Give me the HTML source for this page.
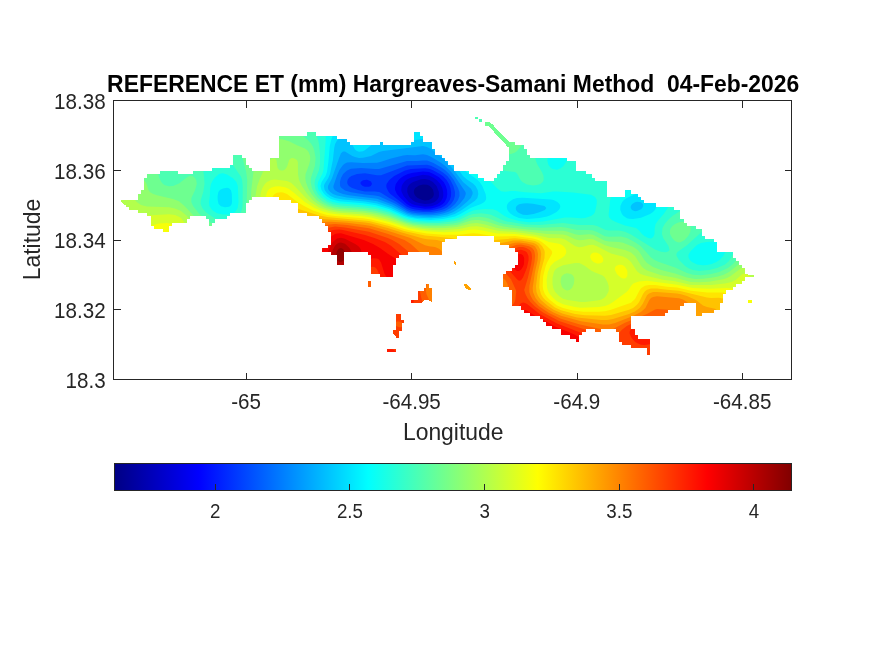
<!DOCTYPE html>
<html><head><meta charset="utf-8"><title>Reference ET</title>
<style>
html,body{margin:0;padding:0;background:#fff;}
body{width:875px;height:656px;overflow:hidden;font-family:"Liberation Sans",sans-serif;}
svg{display:block;position:absolute;left:0;top:0;}
text{font-family:"Liberation Sans",sans-serif;fill:#262626;}
.t{font-size:20.8px;}
.c{font-size:18.75px;}
.l{font-size:22.9px;}
.ti{font-size:22.9px;font-weight:bold;fill:#000;}
</style></head><body>
<svg width="875" height="656" viewBox="0 0 875 656">
<defs>
<linearGradient id="jet" x1="0" x2="1" y1="0" y2="0">
<stop offset="0" stop-color="#000083"/>
<stop offset="0.125" stop-color="#0000ff"/>
<stop offset="0.375" stop-color="#00ffff"/>
<stop offset="0.625" stop-color="#ffff00"/>
<stop offset="0.875" stop-color="#ff0000"/>
<stop offset="1" stop-color="#800000"/>
</linearGradient>
</defs>
<rect x="0" y="0" width="875" height="656" fill="#fff"/>
<!--MAP-->
<clipPath id="isl"><path d="M307 132H316V136H307ZM414 132H420V136H414ZM279 136H337V139H279ZM414 136H423V142H414ZM279 139H347V142H279ZM279 142H350V145H279ZM380 142H383V145H380ZM411 142H432V145H411ZM509 142H515V145H509ZM279 145H432V149H279ZM509 145H524V149H509ZM279 149H435V155H279ZM509 149H527V155H509ZM233 155H242V158H233ZM279 155H442V158H279ZM509 155H530V158H509ZM233 158H246V165H233ZM270 158H445V161H270ZM509 158H567V161H509ZM270 161H448V165H270ZM506 161H576V165H506ZM230 165H249V168H230ZM270 165H454V171H270ZM503 165H576V171H503ZM212 168H252V171H212ZM160 171H178V174H160ZM193 171H469V174H193ZM500 171H586V174H500ZM147 174H478V178H147ZM497 174H592V178H497ZM144 178H484V181H144ZM494 178H595V181H494ZM144 181H607V190H144ZM141 190H607V194H141ZM625 190H631V194H625ZM138 194H607V197H138ZM625 194H638V197H625ZM138 197H252V200H138ZM279 197H641V200H279ZM123 200H249V203H123ZM291 200H644V203H291ZM126 203H246V207H126ZM298 203H656V207H298ZM129 207H246V210H129ZM298 207H674V210H298ZM138 210H246V213H138ZM298 210H680V213H298ZM147 213H230V216H147ZM307 213H680V216H307ZM151 216H190V219H151ZM206 216H227V219H206ZM319 216H680V219H319ZM151 219H187V223H151ZM209 219H215V223H209ZM322 219H684V223H322ZM151 223H172V226H151ZM209 223H212V226H209ZM325 223H687V226H325ZM154 226H169V229H154ZM328 226H696V229H328ZM163 229H169V232H163ZM328 229H702V232H328ZM331 232H702V236H331ZM331 236H457V239H331ZM494 236H705V239H494ZM331 239H445V242H331ZM494 239H714V242H494ZM331 242H442V245H331ZM500 242H717V245H500ZM328 245H442V248H328ZM509 245H717V248H509ZM322 248H442V252H322ZM515 248H717V252H515ZM331 252H344V255H331ZM368 252H408V255H368ZM429 252H442V255H429ZM518 252H733V258H518ZM337 255H344V265H337ZM371 255H399V258H371ZM371 258H396V265H371ZM518 258H736V261H518ZM518 261H739V265H518ZM371 265H393V274H371ZM515 265H742V268H515ZM512 268H745V271H512ZM506 271H745V274H506ZM380 274H393V277H380ZM503 274H748V277H503ZM503 277H745V281H503ZM503 281H742V284H503ZM503 284H736V287H503ZM509 287H733V290H509ZM512 290H726V294H512ZM512 294H723V303H512ZM512 303H684V306H512ZM696 303H720V310H696ZM521 306H680V310H521ZM524 310H668V313H524ZM696 310H714V313H696ZM530 313H665V316H530ZM696 313H702V316H696ZM540 316H631V319H540ZM543 319H631V322H543ZM546 322H631V326H546ZM552 326H631V329H552ZM561 329H586V332H561ZM595 329H601V332H595ZM616 329H635V332H616ZM561 332H582V335H561ZM619 332H635V335H619ZM570 335H579V339H570ZM619 335H638V339H619ZM576 339H579V342H576ZM619 339H650V342H619ZM622 342H650V345H622ZM631 345H650V348H631ZM647 348H650V355H647ZM475 117H478V119H475ZM479 119H482V122H479ZM485 122H490V123H485ZM485 123H491V124H485ZM485 124H493V125H485ZM485 125H494V126H485ZM489 126H494V127H489ZM490 127H495V128H490ZM491 128H496V129H491ZM492 129H497V130H492ZM493 130H498V131H493ZM494 131H499V132H494ZM494 132H500V133H494ZM495 133H501V134H495ZM496 134H502V135H496ZM497 135H503V136H497ZM498 136H504V137H498ZM499 137H505V138H499ZM500 138H506V139H500ZM501 139H507V140H501ZM502 140H508V141H502ZM503 141H509V142H503ZM504 142H509V143H504ZM505 143H510V144H505ZM506 144H510V146H506ZM507 146H510V147H507ZM121 200H127V202H121ZM122 202H127V203H122ZM123 203H127V204H123ZM124 204H127V205H124ZM126 205H127V206H126ZM454 261H455V262H454ZM454 262H456V264H454ZM455 264H456V265H455ZM744 275H754V277H744ZM368 281H371V287H368ZM426 284H429V288H426ZM464 284H467V285H464ZM464 285H468V286H464ZM465 286H469V287H465ZM465 287H470V288H465ZM424 288H432V291H424ZM466 288H471V289H466ZM468 289H471V290H468ZM418 291H432V300H418ZM411 300H424V301H411ZM429 300H432V301H429ZM748 300H752V303H748ZM411 301H423V302H411ZM431 301H432V302H431ZM411 302H422V303H411ZM396 314H401V320H396ZM396 320H404V323H396ZM396 323H402V330H396ZM393 330H402V331H393ZM393 331H399V334H393ZM394 334H399V335H394ZM395 335H399V336H395ZM396 336H399V338H396ZM387 349H396V352H387Z"/></clipPath>
<g clip-path="url(#isl)">
<rect x="113" y="100" width="679" height="280" fill="#000090"/>
<path fill="#0000b2" fill-rule="evenodd" d="M109 96 795 96 795 384 109 384ZM414.1 190 413.8 192 414.3 194 415.5 196 417.7 198 422.3 200 425 200.4 429 200 432.2 198 433.5 196 433.9 194 433 189.8 431 186.9 429 185.4 427 184.7 423 184.4 419 185.5 415.2 188Z"/>
<path fill="#0000d4" fill-rule="evenodd" d="M109 96 795 96 795 384 109 384ZM407.4 188 407.2 192 408.8 196 410.2 198 413 200.6 415.6 202 419 203.1 425 204.1 431 203.5 434.7 202 437 200.1 438.4 198 439 196 438.9 192 436.6 186 432.9 182 429.4 180 425 178.9 421 179.3 413.1 182 410 184 408.3 186Z"/>
<path fill="#0000f6" fill-rule="evenodd" d="M109 96 795 96 795 384 109 384ZM401.7 186 401.2 190 401.6 192 403.6 196 408.8 202 412 204 415 205 425 206.7 432.3 206 437 204.3 439 203 441 201.2 442.8 198 443.3 196 443.2 192 442.3 188 440.3 184 436.7 180 433 177.5 429 175.5 423 174.8 411 177.6 407 179.5 405 181.1 402.7 184Z"/>
<path fill="#001aff" fill-rule="evenodd" d="M109 96 795 96 795 384 109 384ZM395.8 184 394.9 188 395.1 190 396.9 194 400.4 198 406.8 204 410.1 206 413 207 425 208.7 431 208.4 435 207.6 439.5 206 442.8 204 444.7 202 446.7 198 447.3 194 447 190 445.8 186 443.7 182 439 177.3 433 173.7 429 172 423 171.4 413 172.7 407.9 174 403.6 176 400.7 178 398.6 180Z"/>
<path fill="#003cff" fill-rule="evenodd" d="M109 96 795 96 795 384 109 384ZM386.6 184 386.3 186 386.6 188 388.7 192 390.4 194 407 206.8 411 208.6 415 209.5 423 210.4 429 210.4 435 209.6 440.7 208 444.6 206 447 204 449.8 200 451 196 451.1 192 450.4 188 449 184 446.6 180 443 176.2 439.8 174 433 170.2 429 168.7 425 168.2 411 169.1 405 170.5 394.2 176 389.3 180ZM360.6 182 360.6 184 362.8 186 365 186.8 369 186.7 370.8 186 372 184 371 181.6 369 180.4 367 179.8 363 180.2Z"/>
<path fill="#005eff" fill-rule="evenodd" d="M109 96 795 96 795 384 109 384ZM454.9 196 455 192 453.4 186 450.4 180 447.3 176 443 172.4 437 168.8 431 165.8 427 164.8 407 165.6 381 175.2 377 175.3 365 173.3 357 174 351.4 176 349 177.8 347.6 180 347.2 182 347.5 184 348.9 186 352.1 188 358.1 190 365 191.5 375 191.5 379 192 381 192.7 389.3 198 395 201 407 209 411 210.5 415 211.3 423 212 431 212 437 211.1 443 209.4 447 207.4 451 204 453.7 200Z"/>
<path fill="#0080ff" fill-rule="evenodd" d="M109 96 795 96 795 384 109 384ZM339.9 182 340.1 186 341 187.5 345 190.5 351 192.3 365 194.6 375 195.4 379 196.3 395 203.6 407 210.8 411 212.2 417 213.2 425 213.7 433 213.4 439 212.6 445 210.9 450.5 208 455.1 204 458 200 459.5 196 459.4 192 458 188 453.8 180 449.2 174 445 170.1 441 167.3 433 162.8 427 160.6 423 160.4 417 161.1 407 161 379 169.1 375 169.1 361 168 351 168.8 347 170.4 343.1 174 341 178Z"/>
<path fill="#00a2ff" fill-rule="evenodd" d="M109 96 795 96 795 384 109 384ZM333.4 186 333.5 188 334.7 190 337.7 192 343 194 349 195.2 377 198.7 393 204.8 407 212.5 413 214.2 421 215 429 215.2 437 214.7 443 213.5 449 211.5 455 208 459.6 204 464.4 198 465.8 194 465.5 192 454.6 176 451 171.7 445 165.8 441 162.8 431 156.7 427 154.9 423 154.3 415 155.3 407 155 403 155.5 391 158.4 381 161.8 377 162.7 363 163 351 162.3 347 162.6 345 163.4 343 165 339.4 170 337 175.5Z"/>
<path fill="#00c3ff" fill-rule="evenodd" d="M109 96 795 96 795 384 109 384ZM472.6 194 472.6 192 471 188.7 463 181.9 453 169.1 445 160 431 149 427 147 423 146.1 383 150.9 379 152.1 371 156 363 157.8 359 157.9 355 157.1 352.3 156 345 151.5 343 151.4 341 153.3 339 158.2 332.1 178 328 186 327.9 188 328.6 190 330.2 192 333 194 337 195.6 347 197.6 369 199.9 377 201.2 391 206 407 214.1 413 215.6 423 216.6 431 216.7 439 216.1 447 214.4 453 212.2 459.7 208 466.8 202 470.8 198Z"/>
<path fill="#00e5ff" fill-rule="evenodd" d="M109 96 795 96 795 384 109 384ZM323.9 186 324.6 190 327 193.2 330.5 196 335 197.9 343 199.4 365 201.5 377 203.4 391 207.9 403.4 214 408.4 216 415 217.4 423 218.1 431 218.3 439 217.8 447 216.4 454.7 214 461.8 210 475 200.8 477.4 198 478.3 194 477.7 190 475.5 186 473 183.5 467 179.6 463 176.1 450.3 158 441.3 148 437 144 433 141.4 429 139.6 425 138.8 413 140.2 389 140.2 381 141 377 142 373 143.8 365.2 150 363 151.2 359 151.8 357 151 355 149.4 351 142.5 349 139.9 347 138.4 345 137.7 341 137.8 339 138.7 337 140.5 335.1 144 334.2 148 332.9 160 330 174 328.3 178 324.5 184ZM641 202.2 637 201.8 635 202.3 632.2 204 630.8 206 630.7 208 632 210 635 211.2 637 211.1 641 209.3 642.3 208 643.2 206 642.9 204ZM515.7 208 516.1 210 517.5 212 519 213 523 214.7 527 215 533.7 214 540 212 544.9 210 546.3 208 544.5 206 533 203.8 527 203.3 523 203.4 519 204.3 516.6 206Z"/>
<path fill="#09fff6" fill-rule="evenodd" d="M109 96 795 96 795 384 109 384ZM333 134.9 331.2 140 329.8 146 328.4 162 327 172 325.5 176 321.6 182 320.5 186 321.5 190 324.2 194 327 196.6 331 199 339 201.2 363 203.3 375 205 389 209 404.4 216 409 217.6 419 219.3 431 219.9 443 219.1 455 216.4 460.3 214 471 207.8 481 204 484.3 202 485.8 200 486.2 198 485.6 194 482.3 186 479.6 182 477 179.5 466.5 172 463.4 168 455 153.5 449 145.3 441.8 138 435 133.8 427 131.3 411 130.5 395 126.8 383 128.7 369 129.2 359 128 345 125.4 341 126.1 339 127.2 335 131.4ZM227 187.7 223 188.4 219.9 190 218.4 192 217.6 196 217.7 200 218.6 204 221 206.3 225 207.3 229 206.8 230.4 206 231.7 204 232 202 231.8 194 231 190.3 229 188.2ZM654.4 194 651 191.4 649 190.7 645 190.5 641 191.5 626.8 198 623.9 200 622.2 202 620.4 206 620.3 210 621.9 214 623.6 216 627 218.2 629 218.8 633 219.1 641 217.7 650.1 214 653 212 654.9 210 656.8 206 657.1 200 655.7 196ZM506.8 206 506.9 208 507.5 210 508.9 212 511 214 514.2 216 519 218 527 219.1 539.6 218 547 216.5 551 215.1 556.6 212 558.7 210 560 208 560.3 206 559.5 204 557.4 202 553.5 200 551 199.4 523 197.7 517 198 513 199.2 509 202 507.5 204Z"/>
<path fill="#2bffd4" fill-rule="evenodd" d="M109 96 659.8 96 659 98.8 656.8 102 645 111.6 641.3 116 625.9 140 621.7 148 620.3 154 620.9 166 620.2 174 617.8 182 611.2 196 610.2 200 608.7 214 608.7 216 609.6 218 611.9 220 615.8 222 625 225.4 636 228 638.6 230 642 234 644.4 236 648.1 238 651 238.4 653 237.3 653.8 236 654.5 234 654.7 228 655.6 224 658.4 220 663.7 214 667.8 208 673.5 198 677.8 188 679.3 182 679.3 176 677.5 168 673 157 672.9 152 674.7 146 676.6 142 694.1 110 698.5 100 699.5 96 795 96 795 384 109 384ZM327.7 120 326.3 126 325.8 130 325.7 140 323.5 170 322.3 174 318.1 182 317.5 186 318.6 190 322.8 196 327 199.4 332.8 202 339 203.3 363 205.3 375 207 389 210.8 403 216.9 409 219 417 220.6 427 221.4 439 221.3 453 219.3 459 217.4 469 212.2 473 210.6 477 209.7 485 209 493 209.2 497 210.8 504.5 216 508.6 218 519 221.1 529 222.3 543 221.4 565 217.4 571 217.4 581 218.3 585 217.9 591 216 593.8 214 595 212 596.7 204 596.8 200 595 197 591 194.8 573 192.4 557 191.4 553 191.5 541 193.3 525 192.3 515 191.1 511 191.1 505 191.8 501 191.3 497 188.3 485.6 176 475.8 168 471.8 164 469 160.2 456.7 140 452 134 447 129.2 443 126.1 437 122.9 431 120.7 419 117.7 415.3 116 411 113.2 405 107.8 403 106.8 401 106.7 391 109.1 385 109.6 375 108.7 367 105.8 363 104.9 357 104.9 353 106 343.4 110 335 110.7 333 111.4 330.4 114ZM563 149.2 559 148.7 555 149.6 551 152.2 548.3 156 547.3 160 548.1 164 549.2 166 551 167.9 553 169.1 557 169.7 561 168.1 563.4 166 566.1 162 567.6 158 567.7 154 566.8 152 565 150.2ZM221 173.4 219 174.1 215 177.6 213 179.9 211 183.9 210.2 188 209.9 196 209.1 202 209.4 206 212.1 210 217 213.2 223 214.6 229 214.6 233 213.3 235 212 237.7 208 238.5 202 237.8 186 236.4 182 233 178.3 227 174.4 223 173.3ZM724.4 246 723 244.1 721 242.7 717 241.5 707 242 701 243 697 245 691 250.7 688.8 254 688.4 256 688.8 258 689.9 260 692 262 697 264.5 703 265.3 707 265 711.7 264 716.4 262 719.4 260 723.3 256 725.3 252 725.2 248Z"/>
<path fill="#4dffb2" fill-rule="evenodd" d="M109 96 291.9 96 294 100 301 108.5 311 124 315 131.8 318.2 140 319 144 320 154 320 164 319.1 170 315 180 314.5 184 315.7 190 318 194 321 197.4 327 201.8 333 204.2 341 205.5 365 207.4 377 209.3 389 212.6 405 219.2 413 221.4 421 222.5 431 223.1 439 223 455 221.1 458.9 220 469 215.3 473 214 481 213.3 487 213.9 491 214.8 502.4 220 507 221.4 525 224.6 539 225 563 223.1 579 224.9 593 225 597 226 605.6 230 609 230.4 619 230.4 625 231.8 631 234.6 655 249.6 661 251.8 665 252.2 667 252 669 250.8 669.5 250 668.5 246 663.2 238 661.9 234 662.5 228 665 223.5 669 219 673 215.5 681 210.4 689 207.9 697 206.5 701 206.4 703 207.2 705 209.1 706.5 212 706.8 214 706.2 220 704.2 228 701.6 232 687 245.3 677.5 252 676.3 254 676.6 256 679 260 685.1 266 689 268.4 693 270 699 271 709 270.1 717 268 725 264.5 729 261.1 733.1 254 736 248 741.9 228 744.8 222 750.1 216 767.4 202 771.5 198 772.3 196 771 194.9 767.7 194 761 193.5 757 192.1 756.8 190 757.7 188 767 174.7 785 152.2 791 145.4 795 142.9 795 384 109 384ZM211 149.7 209 150.3 207 151.7 205.1 154 203.9 156 202.7 160 202.7 166 204.2 178 204.5 184 203.3 192 200.8 200 200.6 204 202.3 208 205.7 212 209 214.6 215 218.4 219 220.2 223 221.3 227 221.5 231 220.8 235 219 237 217.5 239.9 214 241.8 210 242.6 206 242.7 186 242.1 180 241 176.8 229 159.2 225 154.7 223 153 219 150.8 215 149.7ZM413.6 96 563.6 96 562.3 100 555.8 114 541 140.3 538.3 146 536.1 152 535.4 156 535.6 160 537.1 164 541.9 172 543.6 176 543.7 180 542.7 182 540.4 184 537 185.1 533 185.4 527 184.5 522.4 182 520.5 180 517 173.6 515.1 172 505 170.8 501 169.9 495 167.5 491 165 485 160.1 481.4 156 463 126.3 459 120.8 454.5 116 439 103.4 435 102 425 102.5 421 101.9 416.7 100 414.6 98ZM743.2 96 740.6 100 729 114.1 727 116.1 725 116 724.7 110 725.7 96ZM775.9 104 775.2 102 775.9 96 787.8 96 786.7 98 782.3 102 779 104 777 104.3Z"/>
<path fill="#6eff90" fill-rule="evenodd" d="M109 96 151.5 96 150.2 114 150.6 118 153.2 128 154.2 134 154 148 154.5 156 157.1 170 159.4 178 161 181.5 163 184 165 185.3 169 186.3 173 186 179 183.6 187 177.2 189 176.2 191 175.8 193 176.3 195 177.9 196.2 180 196.8 184 195.1 190 191.4 198 191.3 202 193.1 206 199 213.4 205 218.7 215 225.5 219 227.4 223 228.5 227 228.6 231 228 237 225.2 242.1 220 245.1 214 246.6 206 247.2 180 246.2 172 243.1 160 242.1 154 241.7 146 242.4 138 243.9 132 247.3 126 253 121 257 119 259 118.6 269 120.3 279 120.2 283 121.5 293 127.7 307 139.3 311 143.4 313 146.8 314.2 150 315.6 158 314.9 166 310.9 178 310.7 182 311.9 188 314.9 194 318.1 198 323 202 329 205 333 206.2 339 207.3 363 209 375 210.8 389 214.5 407 221.4 413 222.9 423 224.2 437 224.8 453 223.5 460 222 471 217.6 475 216.9 479 216.8 485 217.5 489 218.5 499 222.4 504.1 224 525 227 541 227.8 561 227.1 567 227.7 577 229.9 589 229.9 593 230.4 597 232 605 236.2 609 236.7 621 236.4 627 238.1 635 242.2 640.6 246 651 257.4 654.6 260 659 262 675 267.6 687 273.1 693 274.8 701 275.2 711.1 274 719 272 727.9 268 733 264 743 252.6 753 242.8 761 235.8 771 228.1 785 218.2 791 214.4 795 213.1 795 384 109 384ZM472.7 96 538.2 96 537 100.4 533.2 108 531 113.8 526.5 132 524 140 521 146.4 517 151 515 152.4 511 153.9 507 154.5 503 154.2 496.6 152 493.7 150 491 147.2 487.8 142 485.7 136 483.3 118 481 109.9 479 104.9 477 101.8 473.7 98ZM687 222.8 689 224.4 690.1 226 690.8 228 690.3 232 688.2 236 684.6 240 681 242.1 679 242.4 677 242.1 675 241.1 672.1 238 670 234 670 230 670.9 228 672.5 226 675 224 679 222.2 683 221.8Z"/>
<path fill="#91ff6e" fill-rule="evenodd" d="M109 132.3 111 133.7 113 136.2 129.6 162 137 172 145.4 182 146.6 184 148.5 190 149.8 192 153.2 194 157 195.3 173 198.9 179 201.3 185 206.4 199 221.6 207 229 215 234.5 221 236.7 225 237.1 229 236.8 235 235 241 230.9 243.7 228 246.4 224 249 218 250.4 212 251.3 190 254.8 160 257 152 260.6 146 265 142.3 271 139.8 275 139 279 138.9 283 139.4 289 141.3 297 145.3 305 148.5 307 149.9 308.6 152 310.1 156 310.2 160 309.3 164 305.6 174 305.3 178 305.9 182 308.1 188 311.4 194 316.6 200 321 203.3 327 206.3 335 208.6 365 211 377 213 389 216.3 405 222.3 413 224.4 429 226.3 443 226.3 457 224.9 471 220.6 475 220 479 220.1 487 221.5 499 225.6 505 226.8 527 229.5 543 230.7 563 230.8 567 231.6 575 234.3 579 235 589 234.3 593 234.8 605 240.8 609 241.6 619 242 623 242.7 633 246.7 637 249.4 639 251.4 644.4 260 647 263.1 653 266.9 661.1 270 675 273.5 687 277.6 695 278.9 703 278.7 711 277.8 717 276.7 723 274.9 729 271.9 741 262.5 749 258 757 254.8 787 244.6 795 242.6 795 384 109 384Z"/>
<path fill="#b3ff4c" fill-rule="evenodd" d="M109 178.8 111 179.3 115 181.5 123 187.4 129 193.1 136.7 202 141 204.9 147 206.4 169 207.2 175 208.5 181 211.1 187 216.1 199 232.3 205 238.7 213 244.8 217 246.7 221 247.7 225 247.8 229 247.1 235 244.4 239 241.4 245 235.7 248.1 232 251 227.4 253.5 222 254.8 216 255.5 196 257 186.5 260.1 178 267.8 162 271 159.2 273 158.5 275 158.7 276.4 160 277.6 168 279.3 170 281 170.6 283 170.6 285 169.4 286.2 168 287.3 166 289.1 160 291 158.2 293 158.1 295 158.7 297 160 297.9 162 298 174 299 180 301.9 186 307.3 194 312.6 200 317.7 204 325 207.7 333 210.1 341 211.2 363 212.6 373 214.1 389 218.1 409 225 423 227.4 435 228.3 445 228.1 457 227 471 223.5 477 223.1 485 224.4 497 227.9 503 229 515 229.9 547 234.1 563 234.4 567 235.6 575 239.2 579 240.2 583 240.1 589 238.9 593 239.2 605 245.2 611 247.1 625 250 631 252.5 635 256.1 641.3 266 643.2 268 647 270.4 661 275.2 675 277.8 691 282 699 282.2 709 281.7 723 279.3 727 277.9 730.7 276 741 268.2 747 266.1 751 265.9 771 266.5 795 264.9 795 384 109 384ZM567 273.3 564.3 274 561.9 276 561 278 560.6 282 561.6 286 562.8 288 565 289.8 567 290.4 569.5 290 572 288 573.8 284 574.3 280 574.2 278 573 275.5 571 274Z"/>
<path fill="#d5ff2a" fill-rule="evenodd" d="M109 204.1 115 204.9 121 206.5 133 213.1 139 215 147 215.6 169 214.3 175 215.1 179 216.7 181 218.1 184.1 222 191.7 238 195 243.5 198.3 248 203 253 209 258.5 213 261.3 215 261.9 217 262.1 221 261 229 255.8 241 246 252.2 234 257.2 226 259.4 220 260.2 214 260.3 196 261 192 262.4 188 264.9 184 267 182 271 179.9 275 179.5 287 180.9 291 182.8 295 186.4 305.9 198 310.4 202 319 207.4 329 211.1 339 212.8 361 214.3 371 215.5 387 219.4 409 226.7 423 229 433 230 443 230.2 459 228.9 471 226.4 477 226.3 483 227.2 499 231 515 232 535 234.7 549 237.9 561 238.3 565 239.5 575 245.9 579 247.2 583 246.8 589 244.9 593 244.8 597 246.2 611 253.6 623 256.6 627 258.4 631 262 637 271.3 640.5 274 645 275.6 663 279.8 675 281.3 691 285 711 285.1 725 283.4 731.7 282 735.6 280 742.4 274 745 273.4 747 273.9 755 279.9 763 282.9 777 285.3 795 286.7 795 384 109 384ZM553.9 272 552.5 278 552.5 284 553.2 288 555 291.8 559 296.1 563 298.7 567.7 300 581 301.9 585 301.9 597 300.6 601 299.7 604.1 298 606.1 296 608.3 292 608.8 290 608.7 286 607.4 282 605 277.7 603 275.8 601 274.7 595 272.5 591 270.5 585 266.1 581 263.8 579 263.1 575 262.9 563 265.3 557.1 268 555 270Z"/>
<path fill="#f7ff08" fill-rule="evenodd" d="M109 234.8 137 230.5 143 228.9 155 224.4 159 223.4 167 222.9 172.6 224 174.8 226 175.8 228 180.7 248 183.8 256 186.9 262 191 267.9 201 279.9 203 281.2 205 281.5 209 279.7 225 266 243 249.9 253 240 256.4 236 261.9 226 264.6 218 265.6 212 265.4 198 267 192 269 189.3 271 187.8 275 186.5 279 186.3 285 187.3 289 189.1 293 192 304.9 202 314.5 208 323 211.5 331 213.6 339 214.6 363 216.3 371 217.4 389 221.9 409 228.4 427 231.3 445 232.2 459 231.4 469 229.7 475 229.5 481 230.2 497 233.5 515 234 535 236.8 539.5 238 549 242 559 243.8 561 244.5 563.3 246 565.1 248 566 250 566.3 252 565.8 254 564.4 256 561.8 258 554.4 262 550.5 266 547.9 272 546.6 280 547.1 288 548.5 292 549.7 294 553 297.7 557 301.2 563 304.3 575 307 581 307.8 599 307 605 306.1 609 304.4 613 302 626.5 292 628.5 290 631 286 633 283.8 635 282.7 639 281.5 647 280.8 677 284.7 693 288.1 709 288.8 727 288.1 737 289 740.8 290 743 291.1 751 298.4 755 300.8 759 302 785 307.7 795 309.4 795 384 109 384ZM591.2 254 593 252.8 595 252.5 597 252.8 599.6 254 601.8 256 603 258 603.4 260 602.7 262 601 263.1 599 263.5 597 263.4 593.5 262 591.4 260 590.4 258 590.2 256ZM616 266 619 264.8 621 264.7 623 265.3 625 266.7 627 269.9 627.5 272 627.3 276 626 278 625 278.6 623 278.6 621 277.8 617 274.3 614.9 270 614.8 268Z"/>
<path fill="#ffe500" fill-rule="evenodd" d="M109 305.1 113 304.1 127 299 131 298.2 135 298 139 298.7 147 301.8 163 309.7 167 310 171 308.5 184.2 302 207 289.7 211.6 286 221 275.6 243 257.8 256.1 246 259.8 242 262.4 238 264.2 234 270.2 216 271.4 210 271.8 200 272.9 196 274.7 194 277 192.8 281 192.2 283 192.4 287 194 297.4 202 304 206 313 210.4 321 213.3 327 214.9 335 216.1 363 218.2 371 219.4 389 223.9 405 229.2 415 231.5 427 233.4 443 234.7 459 234.7 473 233.2 479 233.8 495 236.4 515 236.1 533 238.5 538.3 240 541.8 242 546.8 246 551.1 250 552.2 252 551.9 254 547.4 262 545.7 266 543.2 276 542.7 286 543.3 290 544.9 294 547 296.9 550 300 557 305.4 563 307.9 573 310.5 583 311.8 599 311.7 605 311.2 611 309.8 631 302.7 635 298.9 639.8 290 641.4 288 645 285.8 649 284.9 655 285 667 286.8 677 287.6 691 290.7 707 292.6 723 292.6 729 293.9 733 296 735.7 298 747 309.8 759 318 767 322.4 791 333.9 795 334.9 795 384 109 384Z"/>
<path fill="#ffc300" fill-rule="evenodd" d="M109 358.3 113 356.5 143 335.8 171 317.8 179 312 195 302.3 211 293.4 223 283.4 235 274.8 251 261.2 259 255.2 264.3 248 269.4 238 273.7 226 280.1 204 281 202 283 200.9 285 201.4 292.1 206 297 208.4 319 215.5 329 217.3 369 221 388.8 226 405 231.2 425 235.6 451 238 461 239.9 473 238.5 489 239.9 495 240 515 238.2 527 239.5 535 241.1 539 243.1 542 246 544.3 250 544.8 252 544.5 258 540.7 272 539.6 280 539.3 288 541 294.3 543 297.5 545.3 300 555 307.6 561 310.3 575 314.1 585 315.3 605 315.8 611 314.9 629 309.8 633.1 308 637 304.8 639.1 302 643 294 645 291.3 647 289.8 651 288.5 657 288.5 667 289.8 679 290.7 707 297.4 711 297.9 719 297.8 723 298.5 725.9 300 728.1 302 739.5 318 745 324.2 751 329.9 765 341.4 791 361 795 362.7 795 384 109 384Z"/>
<path fill="#ffa200" fill-rule="evenodd" d="M109 371.9 111 371.5 115 369.4 139 353.6 165.7 334 183 324.5 193 318.3 203 311.5 211 305.1 235 287.7 251.5 272 261 265 263 263 267 256.8 273 244.7 281 230.3 287 221.1 289 219.2 293 217.2 301 216.4 307 216.8 323 219.1 349 220.9 365 222.5 371 223.6 387.6 228 401 232.3 423 238.5 427 239.3 437 240 444.7 242 450.3 244 459 249.5 463 250.6 465 250.5 479 246.9 499 243.5 513 240.6 521 240.6 533 242.7 536 244 538.3 246 540.5 250 541.2 254 540.6 260 537.5 274 536 286 536.5 292 538.1 296 540.9 300 548 306 554.1 310 563 313.7 577 317.4 601 320 607 320.1 613 319.1 629 314 635 311.4 639.6 308 642.6 304 647 295.3 649 293.5 653 292 657 291.9 677 293.6 681 294.2 686.9 296 695.9 300 703 305.4 707 306.9 715 308.8 719 311.6 723 317 731.3 330 740 342 747 350.5 761 366 771.4 380 773.2 384 109 384Z"/>
<path fill="#ff8000" fill-rule="evenodd" d="M134.5 384 136.7 380 143 374 157 361.8 176.7 346 189.8 336 203 328.5 219 317.7 233 304.6 245.3 290 253 282.2 257 279.4 263 277.5 265 276 269 269.2 275 256.3 278.5 250 289.6 234 295.2 228 301 224.2 307 222.3 331 221.8 347 222.8 365 224.9 371 226 387 230.5 410.4 238 425 245.3 429 246.3 435 247 439 248.7 440.6 250 442.1 252 443.1 256 441.9 274 439.6 286 439.4 290 440.1 292 441.5 294 446.1 298 452.5 302 457 303.5 459 303.7 463 303.2 475 298.9 483.8 294 488.1 290 489.2 288 489.6 286 489.3 284 484 272 482.9 268 482.5 264 483.3 260 484.2 258 487.5 254 493 250.3 498.3 248 511 243.7 515 242.8 519 242.5 527 243.4 533 245.2 535 246.6 537.2 250 538 254 537.7 260 535 272 532.7 288 533 292 535.5 298 539 302.4 546.1 308 553 312.2 561 315.8 581 321.3 603 324.6 609 324.5 615 322.9 633 316 640.9 312 645.4 308 649.3 300 651 297.9 653 296.9 657 296.3 679 298.2 683 299.5 687.1 302 688.9 304 693.4 314 696.1 318 699 321.1 709.2 330 714.4 336 718.7 342 732.4 364 740.1 380 741.1 384 197.7 384 199.3 380 209 368.1 219 358 231 342.7 241 332 245 326.9 247.7 322 253 310 253.6 306 253 305.1 251 305 247 307 237 314.8 233 318.6 226.6 326 217.8 334 205.3 354 194.8 366 189.3 374 184.5 380 182.9 384ZM267 282.7 265 285 263.8 292 265 295.2 267 295.9 269 294 270.4 288 269.7 284 269 283.1Z"/>
<path fill="#ff5e00" fill-rule="evenodd" d="M251.2 384 252.2 380 255 373.2 258.8 362 261 356.8 263 353.9 265 353.8 267 355.1 269 357.5 271.2 362 273 367.1 275 370 277 364.9 281.3 346 283.4 328 284 312 286 300 285.9 282 287.1 270 286.6 266 284.6 262 284.5 260 285 258 291.2 248 298.1 238 302.9 232 305.3 230 309 228.1 313 227.2 329 224.4 335 224.1 347 225.1 369 228.3 388.1 234 404.5 240 410.9 244 423.9 256 427.1 260 429 264 430 268 429.9 274 426.6 286 425.9 290 426.4 294 429 299.8 433 305.6 441 313.8 445 316.2 453 318.5 457 318.7 461 317.7 467 314.9 475 312 483 307.9 499.1 302 502.9 300 505 298.3 507 295.1 507.9 292 508.2 288 507.5 284 505.2 280 498 274 495.1 270 494.2 268 493.4 264 494 260 494.8 258 498.1 254 500.6 252 507.8 248 513 245.9 517 244.8 521 244.6 529 246.3 532.1 248 533.8 250 534.6 252 535.1 256 534.5 262 529.4 286 529.3 292 530.7 296 533 300 539 306.3 549 312.9 561 318.7 579 324.2 605 329.9 609 329.9 613 328.9 625 322.7 646.9 314 655 309.6 657 308.9 669 309.7 675 311.4 679 314.2 683 319.3 688.4 328 695.8 342 701.5 356 709.5 380 710.3 384Z"/>
<path fill="#ff3c00" fill-rule="evenodd" d="M302.9 246 304.7 242 307 238.2 311 234.8 327.1 228 335 226.6 345 227.4 369 231.8 387.8 238 392.3 240 399.1 244 411.4 254 415 258.1 418.6 264 420 268 420.6 272 419.4 286 419.5 290 422.3 302 423.2 308 422.5 322 424 326 428.6 332 433 334.9 437 335.7 457 334 461 333.1 463 332.1 471 325.8 479 322.3 487 316.9 501 311.7 509 307.5 513 304.4 514.6 302 515.3 300 516.2 292 515.9 290 511 279.3 504.6 272 502 268 500.9 264 501.3 260 503.4 256 507.6 252 513 248.8 519 247 523 247.1 526.2 248 529.6 250 531.1 252 531.7 254 532 258 531.2 264 527.8 278 524.2 290 525.4 294 527.5 298 530.4 302 535 306.6 543 312.5 559 320.9 587 330.2 601 335.4 607 336.8 613 337.1 616.5 336 621.7 330 626.8 326 633 323 639 321 647 319.7 653 319.6 657 320.4 663 322.7 667 325.3 669.8 328 672.5 332 674.1 336 674.9 340 675 344 672.4 356 672.1 360 677.5 378 678.5 384 300.9 384 300.9 364 299.2 322 299.4 310 298.3 300 297.2 280 298.7 264ZM371 276.4 369 276.7 367 277.8 364.8 280 362.7 284 361.9 288 363 294 365 297.3 367 299 369 299.8 371 300 373 299.3 375 297.4 376.5 294 377.2 290 376.9 286 375 280 373 277.3ZM395 323.7 396.2 326 399 327.3 401 327.3 403.2 326 403.1 324 401 322 399 321.4 397 321.4 395.7 322ZM650.4 354 651.7 356 653 356.5 655.6 356 655.4 354 653 353.1 651 353.4Z"/>
<path fill="#ff1a00" fill-rule="evenodd" d="M308.5 252 310.6 248 313 245.1 325.2 234 328.2 232 332.8 230 339 229.5 343 230 365 235 374.5 238 384.9 242 391 245.8 405.3 258 409.7 264 411.8 270 412.2 276 411.2 288 411.6 292 413.7 300 413.6 302 412.8 304 411 305.3 409 305.7 405 304.9 399.6 302 395 298.5 389 292 385 286.1 381.7 280 377 269.3 375 267.3 373 266.7 371 266.9 367 268.9 361.6 274 357.2 280 354.1 286 351.3 294 349.8 302 349.3 310 349.5 318 351 325.8 353 330 356.6 334 363 339.4 367 341.8 371 343.4 377 345.1 387 346.9 391 348.2 393.9 350 399 354.4 405.5 358 411 364.4 413 365.6 417 365.4 425 362.5 435 359.7 445.9 354 455 350 459 348.7 465 347.6 467 346.5 475 338.1 483 333.7 491 326.2 499 323.1 505 319.4 513 312.3 521 303.3 523 302.4 525 302.9 527 304.1 539.6 314 557 323.4 584 334 601 343.4 609 347.1 617 349.7 627 350.8 629 351.9 631 355.3 633.2 362 636 368 639 372.4 645.3 380 647.4 384 305.3 384 305.3 364 303.6 320 304.3 308 303.1 298 302.7 280 304.5 266ZM521 249.7 525 250.9 527 252.5 528.5 256 528.6 260 527 267.5 523 277.4 521 280.3 519 280.8 517 279.3 508.9 270 507.1 266 506.6 262 507.9 258 511 254 513.6 252 517 250.3ZM630.2 330 633 327.3 637 325.6 643 324.9 649 325.7 653 327.4 656.1 330 658.2 334 657.9 338 656.9 340 654.8 342 651 343.9 645 345.1 641 344.8 637 343.1 635 341.7 631.6 338 629.7 334 629.6 332Z"/>
<path fill="#f70000" fill-rule="evenodd" d="M399.5 262 401 264 402.8 268 403.1 274 401.6 278 400.1 280 397 281.8 395 282 391 281 387 277.8 384.6 274 381 262.4 379 259.6 377 258.5 373 258.2 369 259.6 365 262.5 352.8 276 326.2 308 320.8 318 313 339.5 311 338.3 308.6 320 309.5 308 307.7 294 307.7 278 308.6 272 310.8 264 313 259.4 315.7 256 322.3 250 327.9 240 331.7 236 335 233.9 337 233.4 341 233.3 363.8 240 373.1 244 380 248 388.2 254 395 258.2ZM521 253.9 523 255.3 524.2 258 524 264 523 266.8 521 269.7 519 271 517 271 515 269.8 512.5 266 512 262 512.5 260 515 256 518.6 254ZM439.9 384 440.8 382 442.7 380 447 376.9 459 371.3 465 369.3 467 368.3 469 366.6 477 356.3 489 345.9 495 338.7 497 337.4 503 334.9 506.5 332 513 323.9 521 312.4 523 310.5 525 309.9 527 310.4 537 317 547 321.8 555 326.4 573.4 334 580.7 338 609.4 362 615.7 368 620.9 374 623 377.3 624.3 380 625.3 384ZM638.7 332 641 331.3 645.1 332 647.4 334 648 336 647 337.8 645 338.5 643 338.3 641 337.5 639 336 638.1 334Z"/>
<path fill="#d50000" fill-rule="evenodd" d="M360 248 361.1 250 361.4 252 360.4 256 358.4 260 352.7 268 349 271.7 345 274.9 339 278 333 279.1 329 278.7 325 277.7 321.8 276 320.1 274 319.5 270 321.2 264 327 253.7 331.3 244 333 241.8 337 238.5 341 237.7 345 238.7 355.2 244 358.1 246ZM478.7 384 479.2 382 481.7 378 493.8 364 499 355.6 501 354.2 507 353.1 509 351.5 525 324.8 527 322.9 529 322 531 322 543.8 326 553 330.9 569 338 575.4 342 584.5 352 595.6 366 603.4 378 605.6 384Z"/>
<path fill="#b30000" fill-rule="evenodd" d="M341 242.4 345 243.7 349.5 248 351.7 252 352.3 254 352.1 258 350.4 262 347 266.1 343 268.7 339 269.7 337 269.6 333 268.1 331.2 266 330.2 262 330.5 258 332.7 250 334.8 246 337 243.8 339 242.7ZM511.7 384 512.5 382 517.8 374 520.8 368 528.6 346 531 340.6 533 337.8 535 336.5 539 336 545 337.4 557.2 342 564 346 568.7 350 577 359.7 581 365.8 587.5 378 589.5 384Z"/>
<path fill="#910000" fill-rule="evenodd" d="M341 248.1 343 249 345 251.8 345.8 256 345.3 258 344.1 260 343 261 341 261.9 339 261.7 337 260.2 336 256 336.6 252 337.7 250 339 248.6ZM537 363.5 539 362.4 541 362.1 547 364.1 553 364.5 555 365.6 556.5 368 557.1 372 555.6 384 528.9 384 531 374.6 533 369 535 365.6Z"/>
</g>
<!-- axes box -->
<g fill="none" stroke="#262626" stroke-width="1" shape-rendering="crispEdges">
<rect x="113.5" y="100.5" width="678" height="279"/>
<path d="M246.5 379.5v-7M411.5 379.5v-7M577.5 379.5v-7M742.5 379.5v-7M246.5 100.5v7M411.5 100.5v7M577.5 100.5v7M742.5 100.5v7"/>
<path d="M113.5 170.5h7M113.5 240.5h7M113.5 309.5h7M791.5 170.5h-7M791.5 240.5h-7M791.5 309.5h-7"/>
</g>
<g style="opacity:0.999">
<text class="ti" transform="translate(453.2,91.8) scale(1,1.04)" text-anchor="middle" xml:space="preserve">REFERENCE ET (mm) Hargreaves-Samani Method  04-Feb-2026</text>
<g class="t" text-anchor="end">
<text transform="translate(105.6,108.9) scale(0.99,1.045)">18.38</text>
<text transform="translate(105.6,178.6) scale(0.99,1.045)">18.36</text>
<text transform="translate(105.6,248.4) scale(0.99,1.045)">18.34</text>
<text transform="translate(105.6,318.1) scale(0.99,1.045)">18.32</text>
<text transform="translate(105.6,387.9) scale(0.99,1.045)">18.3</text>
</g>
<g class="t" text-anchor="middle">
<text transform="translate(246,409.1) scale(0.99,1.045)">-65</text>
<text transform="translate(411.6,409.1) scale(0.99,1.045)">-64.95</text>
<text transform="translate(576.8,409.1) scale(0.99,1.045)">-64.9</text>
<text transform="translate(742.2,409.1) scale(0.99,1.045)">-64.85</text>
</g>
<text class="l" transform="translate(453.2,440.3) scale(1,1.045)" text-anchor="middle">Longitude</text>
<text class="l" transform="translate(39.6,239.5) rotate(-90) scale(1,1.045)" text-anchor="middle">Latitude</text>
<g class="c" text-anchor="middle">
<text transform="translate(215.3,518.2) scale(1,1.045)">2</text>
<text transform="translate(349.9,518.2) scale(1,1.045)">2.5</text>
<text transform="translate(484.6,518.2) scale(1,1.045)">3</text>
<text transform="translate(619.3,518.2) scale(1,1.045)">3.5</text>
<text transform="translate(754,518.2) scale(1,1.045)">4</text>
</g>
</g>
<!-- colorbar -->
<rect x="114" y="463" width="678" height="28" fill="url(#jet)"/>
<g fill="none" stroke="#262626" stroke-width="1" shape-rendering="crispEdges">
<rect x="114.5" y="463.5" width="677" height="27"/>
<path d="M215.5 490.5v-7M349.5 490.5v-7M484.5 490.5v-7M619.5 490.5v-7M753.5 490.5v-7"/>
</g>

</svg>
</body></html>
